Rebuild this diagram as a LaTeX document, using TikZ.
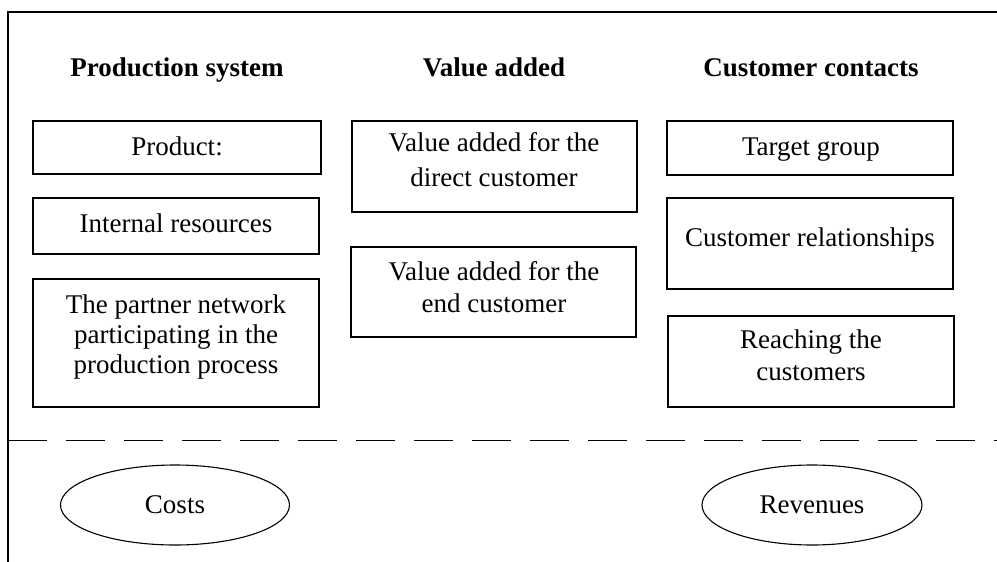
\documentclass[tikz,border=0pt]{standalone}
\usepackage{fontspec}
\setmainfont{Liberation Serif}
\usetikzlibrary{shapes.geometric}
\begin{document}
\begin{tikzpicture}[x=1pt,y=-1pt,
  box/.style={draw, line width=1.3pt, inner sep=0pt, rectangle},
  oval/.style={draw, line width=1.1pt, ellipse, inner sep=0pt},
  txt/.style={font=\fontsize{27}{32}\selectfont, align=center, inner sep=0pt, anchor=base},
  head/.style={font=\fontsize{27}{32}\selectfont\bfseries, inner sep=0pt, anchor=base},
  frame/.style={line width=1.1pt},
  sep/.style={line width=1.5pt, dash pattern=on 39pt off 19pt}]
\useasboundingbox (0,0) rectangle (997,562);
% frame
\coordinate (ftr) at (997,12);
\coordinate (ftl) at (8,12);
\coordinate (fbl) at (8,562);
\draw[frame] (ftr) -- (ftl) -- (fbl);
% separator
\coordinate (sl) at (8,440.5);
\coordinate (sr) at (997,440.5);
\draw[sep] (sl) -- (sr);
% headings
\node[head] (h1) at (177,76) {Production system};
\node[head] (h2) at (494,76) {Value added};
\node[head] (h3) at (811,76) {Customer contacts};
% boxes
\node[box, minimum width=288, minimum height=53] (p1) at (177,147.5) {};
\node[box, minimum width=286, minimum height=56] (p2) at (176,226) {};
\node[box, minimum width=286, minimum height=128] (p3) at (176,343) {};
\node[box, minimum width=285, minimum height=91] (v1) at (494.5,166.5) {};
\node[box, minimum width=285, minimum height=90] (v2) at (493.5,292) {};
\node[box, minimum width=286, minimum height=54] (c1) at (810,148) {};
\node[box, minimum width=286, minimum height=91] (c2) at (810,243.5) {};
\node[box, minimum width=286, minimum height=91] (c3) at (811,361.5) {};
% texts (anchor=base is the baseline of the last line)
\node[txt] (tp1) at (177,155) {Product:};
\node[txt] (tp2) at (176,232) {Internal resources};
\node[txt, font=\fontsize{27}{30}\selectfont] (tp3) at (176,373) {The partner network\\participating in the\\production process};
\node[txt, font=\fontsize{27}{35}\selectfont] (tv1) at (494,186) {Value added for the\\direct customer};
\node[txt] (tv2) at (494,312) {Value added for the\\end customer};
\node[txt] (tc1) at (811,155) {Target group};
\node[txt] (tc2) at (810,246) {Customer relationships};
\node[txt] (tc3) at (811,380) {Reaching the\\customers};
% ovals
\node[oval, minimum width=229, minimum height=80] (costs) at (175,505) {};
\node[txt] (tcost) at (175,513) {Costs};
\node[oval, minimum width=220, minimum height=80] (rev) at (812,505) {};
\node[txt] (trev) at (812,513) {Revenues};
\end{tikzpicture}
\end{document}
